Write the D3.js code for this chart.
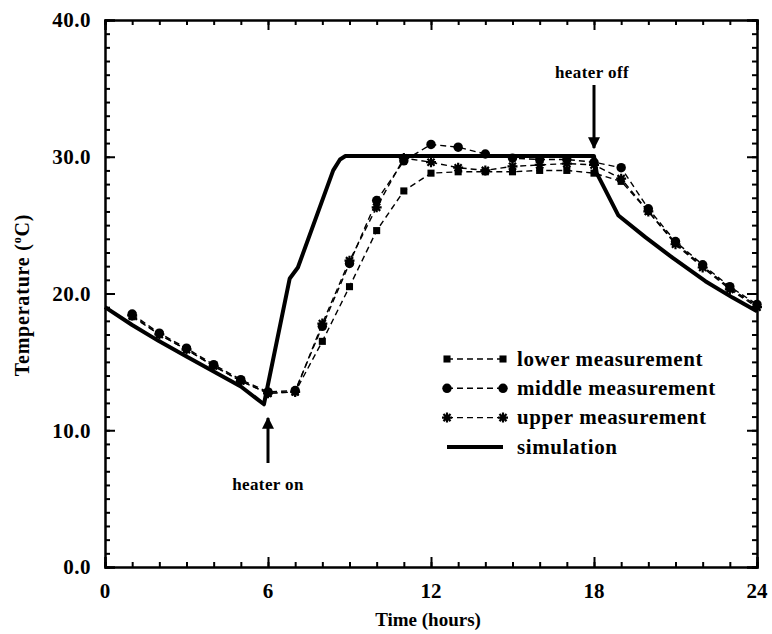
<!DOCTYPE html>
<html>
<head>
<meta charset="utf-8">
<script src="https://cdn.jsdelivr.net/npm/d3@7"></script>
<style>
	body { margin: 0; background: #fff; }
	svg { display: block; }
	text { font-family: "Liberation Serif", "DejaVu Serif", serif; font-weight: bold; fill: #000; }
</style>
</head>
<body>
<svg id="chart" width="772" height="634"></svg>
<script>
// measurement times (hours)
const hours = [1, 2, 3, 4, 5, 6, 7, 8, 9, 10, 11, 12, 13, 14, 15, 16, 17, 18, 19, 20, 21, 22, 23, 24];

const lower = [18.3, 17.0, 15.9, 14.7, 13.6, 12.7, 12.8, 16.5, 20.5, 24.6, 27.5, 28.8, 28.9, 28.9, 28.9, 29.0, 29.0, 28.8, 28.2, 26.0, 23.7, 22.0, 20.4, 19.1];
const middle = [18.5, 17.1, 16.0, 14.8, 13.7, 12.8, 12.9, 17.6, 22.2, 26.8, 29.7, 30.9, 30.7, 30.2, 29.9, 29.8, 29.8, 29.6, 29.2, 26.2, 23.8, 22.1, 20.5, 19.2];
const upper = [18.4, 17.0, 15.9, 14.7, 13.6, 12.7, 12.8, 17.8, 22.4, 26.3, 29.9, 29.6, 29.2, 29.0, 29.3, 29.4, 29.5, 29.4, 28.4, 26.0, 23.6, 21.9, 20.3, 19.0];

// simulation curve
const simTime = [0, 1, 2, 3, 4, 5, 5.85, 6.8, 7.1, 8.4, 8.65, 8.85, 18.0, 18.1, 18.9, 19.9, 20.9, 22.1, 23.1, 24];
const simTemp = [19.0, 17.7, 16.5, 15.4, 14.3, 13.2, 11.9, 21.1, 21.9, 29.0, 29.8, 30.05, 30.05, 28.8, 25.7, 24.1, 22.6, 20.9, 19.7, 18.7];

const xTicks = [0, 6, 12, 18, 24];
const yTicks = [0, 10, 20, 30, 40];

const legendLabels = ["lower measurement", "middle measurement", "upper measurement", "simulation"];

const svg = d3.select("#chart");
const margin = {top: 20, right: 15, bottom: 67, left: 105};
const width = 772 - margin.left - margin.right;
const height = 634 - margin.top - margin.bottom;

const g = svg.append("g").attr("transform", `translate(${margin.left},${margin.top})`);

const x = d3.scaleLinear().domain([0, 24]).range([0, width]);
const y = d3.scaleLinear().domain([0, 40]).range([height, 0]);

// frame with inward ticks on all four sides
function tickAxis(axis, values, size) {
	return axis.tickValues(values).tickSize(size).tickFormat("");
}
const minorX = d3.range(0, 25);
const minorY = d3.range(0, 41);

g.append("g").attr("transform", `translate(0,${height})`).call(tickAxis(d3.axisBottom(x), minorX, -5));
g.append("g").attr("transform", `translate(0,${height})`).call(tickAxis(d3.axisBottom(x), xTicks, -10));
g.append("g").call(tickAxis(d3.axisTop(x), minorX, -5));
g.append("g").call(tickAxis(d3.axisTop(x), xTicks, -10));
g.append("g").call(tickAxis(d3.axisLeft(y), minorY, -5));
g.append("g").call(tickAxis(d3.axisLeft(y), yTicks, -10));
g.append("g").attr("transform", `translate(${width},0)`).call(tickAxis(d3.axisRight(y), minorY, -5));
g.append("g").attr("transform", `translate(${width},0)`).call(tickAxis(d3.axisRight(y), yTicks, -10));

g.selectAll(".domain").attr("stroke", "#000").attr("stroke-width", 2);
g.selectAll(".tick line").attr("stroke", "#000").attr("stroke-width", 2);

// tick labels
g.selectAll(".xlab").data(xTicks).enter().append("text")
	.attr("x", d => x(d)).attr("y", height + 31)
	.attr("text-anchor", "middle").style("font-size", "21px")
	.text(d => d);
g.selectAll(".ylab").data(yTicks).enter().append("text")
	.attr("x", -14).attr("y", d => y(d)).attr("dy", "0.35em")
	.attr("text-anchor", "end").style("font-size", "21px").style("letter-spacing", "0.5px")
	.text(d => d.toFixed(1));

// axis titles
g.append("text").attr("x", width / 2 - 3).attr("y", height + 59)
	.attr("text-anchor", "middle").style("font-size", "19px").text("Time (hours)");
const yt = svg.append("text").attr("transform", "translate(29,295) rotate(-90)")
	.attr("text-anchor", "middle").style("font-size", "20px").style("letter-spacing", "0.8px");
yt.append("tspan").text("Temperature (");
yt.append("tspan").attr("dy", -8).style("font-size", "12px").text("o");
yt.append("tspan").attr("dy", 8).text("C)");

// measurement series
const series = [
	{values: lower, symbol: d3.symbolSquare, size: 50},
	{values: middle, symbol: d3.symbolCircle, size: 70},
	{values: upper, symbol: "star", size: 10}
];

const line = d3.line().x(d => x(d[0])).y(d => y(d[1]));

function starPath(s) {
	let p = "";
	for (let k = 0; k < 4; k++) {
		const a = k * Math.PI / 4;
		const dx = Math.cos(a) * s / 2, dy = Math.sin(a) * s / 2;
		p += `M${-dx},${-dy}L${dx},${dy}`;
	}
	return p;
}

function drawMarker(sel, s) {
	if (s.symbol === "star") {
		sel.append("path").attr("d", starPath(s.size))
			.attr("stroke", "#000").attr("stroke-width", 2.2).attr("fill", "none");
	} else {
		sel.append("path").attr("d", d3.symbol(s.symbol, s.size)()).attr("fill", "#000");
	}
}

series.forEach(s => {
	const pts = hours.map((h, i) => [h, s.values[i]]);
	g.append("path").datum(pts)
		.attr("d", line)
		.attr("fill", "none").attr("stroke", "#000")
		.attr("stroke-width", 1.4).attr("stroke-dasharray", "6,4");
	g.selectAll(null).data(pts).enter().append("g")
		.attr("transform", d => `translate(${x(d[0])},${y(d[1])})`)
		.each(function() { drawMarker(d3.select(this), s); });
});

// simulation
const simPts = simTime.map((t, i) => [t, simTemp[i]]);
g.append("path").datum(simPts)
	.attr("d", line)
	.attr("fill", "none").attr("stroke", "#000")
	.attr("stroke-width", 4).attr("stroke-linejoin", "round");

// annotations
svg.append("defs").append("marker")
	.attr("id", "arrow").attr("viewBox", "0 0 10 10")
	.attr("refX", 9).attr("refY", 5)
	.attr("markerWidth", 4).attr("markerHeight", 4)
	.attr("orient", "auto-start-reverse")
	.append("path").attr("d", "M0,0L10,5L0,10z").attr("fill", "#000");

function arrow(x0, y0, x1, y1) {
	g.append("line")
		.attr("x1", x0).attr("y1", y0).attr("x2", x1).attr("y2", y1)
		.attr("stroke", "#000").attr("stroke-width", 3)
		.attr("marker-end", "url(#arrow)");
}
arrow(x(6), 463 - margin.top, x(6), 418 - margin.top);
g.append("text").attr("x", x(6)).attr("y", 490 - margin.top)
	.attr("text-anchor", "middle").style("font-size", "17px").style("letter-spacing", "0.4px").text("heater on");
arrow(x(18), 85 - margin.top, x(18), 148 - margin.top);
g.append("text").attr("x", x(18) - 2).attr("y", 78 - margin.top)
	.attr("text-anchor", "middle").style("font-size", "17px").style("letter-spacing", "0.4px").text("heater off");

// legend
const legend = svg.append("g").attr("transform", "translate(447,359)");
legendLabels.forEach((label, i) => {
	const row = legend.append("g").attr("transform", `translate(0,${i * 29.3})`);
	if (i < 3) {
		row.append("line").attr("x1", 0).attr("x2", 56)
			.attr("stroke", "#000").attr("stroke-width", 1.4).attr("stroke-dasharray", "6,4");
		[0, 56].forEach(px => {
			const m = row.append("g").attr("transform", `translate(${px},0)`);
			drawMarker(m, series[i]);
		});
	} else {
		row.append("line").attr("x1", 0).attr("x2", 56)
			.attr("stroke", "#000").attr("stroke-width", 4);
	}
	row.append("text").attr("x", 70).attr("dy", "0.32em")
		.style("font-size", "21px").style("letter-spacing", "0.6px").text(label);
});
</script>
</body>
</html>
